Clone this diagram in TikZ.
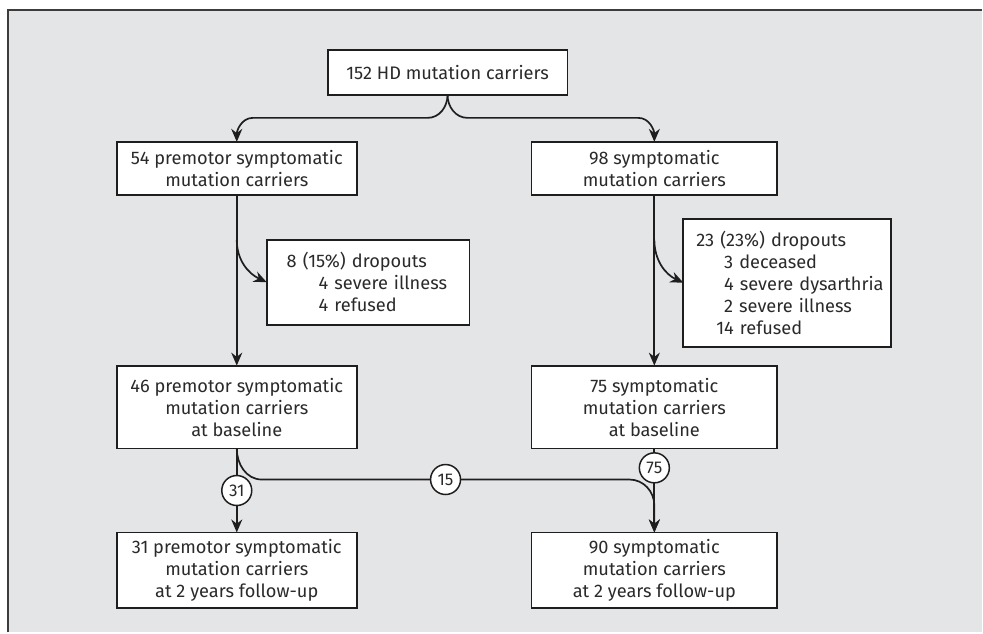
\documentclass[tikz,border=0pt]{standalone}
\usepackage{fontspec}
\setmainfont{Fira Sans}
\usepackage{tikz}
\usetikzlibrary{positioning,arrows.meta,calc}

\definecolor{panel}{HTML}{E4E5E7}
\definecolor{ink}{HTML}{1E1E1E}
\definecolor{txt}{HTML}{2A2A2A}
\definecolor{rim}{HTML}{3C3C3C}

\begin{document}
\begin{tikzpicture}[x=1pt,y=1pt,>={Stealth[length=13pt,width=11pt]},
   box/.style={draw=ink,line width=1.8pt,fill=white,align=center,inner sep=0pt,
     outer sep=0pt,text=txt,font=\fontsize{18.2}{22}\selectfont},
   dropbox/.style={box,align=left,anchor=west},
   flow/.style={->,draw=ink,line width=1.7pt},
   count/.style={circle,draw=ink,line width=1.5pt,fill=white,inner sep=0pt,
     minimum size=30pt,text=txt,font=\fontsize{17}{18}\selectfont}]
  % frame
  \fill[white] (0,0) rectangle (983,-633);
  \fill[panel] (8,-10) rectangle (983,-633);
  \draw[rim,line width=2pt] (8,-633) -- (8,-10) -- (983,-10);
  % boxes
  \node[box,minimum width=240pt,minimum height=45pt] (top) at (448,-72.5) {152 HD mutation carriers};
  \node[box,minimum width=240pt,minimum height=53pt] (b54) at (237,-168.5) {54 premotor symptomatic\\mutation carriers};
  \node[box,minimum width=246pt,minimum height=53pt] (b98) at (655,-168.5) {98 symptomatic\\mutation carriers};
  \node[dropbox,text width=203pt,minimum height=85pt] (d8) at (267,-282.5)
    {\hspace*{20pt}8 (15\%) dropouts\\\hspace*{52pt}4 severe illness\\\hspace*{52pt}4 refused};
  \node[dropbox,text width=208pt,minimum height=128pt] (d23) at (684,-283)
    {\hspace*{13pt}23 (23\%) dropouts\\\hspace*{33pt}\phantom{1}3 deceased\\\mbox{\hspace*{33pt}\phantom{1}4 severe dysarthria}\\\hspace*{33pt}\phantom{1}2 severe illness\\\hspace*{33pt}14 refused};
  \node[box,minimum width=240pt,minimum height=83pt] (b46) [below=171pt of b54] {46 premotor symptomatic\\mutation carriers\\at baseline};
  \node[box,minimum width=246pt,minimum height=83pt] (b75) [below=171pt of b98] {75 symptomatic\\mutation carriers\\at baseline};
  \node[box,minimum width=240pt,minimum height=76pt] (b31) [below=84pt of b46] {31 premotor symptomatic\\mutation carriers\\at 2 years follow-up};
  \node[box,minimum width=246pt,minimum height=76pt] (b90) [below=84pt of b75] {90 symptomatic\\mutation carriers\\at 2 years follow-up};

  \coordinate (split) at ($(top.south)+(0,-23)$);
  \coordinate (cross) at ($(b46.south)+(0,-31)$);

  % split into the two groups
  \draw[flow] (top.south) to[out=-90,in=0] ($(split)+(-20,0)$)
    -- ($(split -| b54.north)+(16,0)$) to[out=180,in=90] (b54.north);
  \draw[flow] (top.south) to[out=-90,in=180] ($(split)+(20,0)$)
    -- ($(split -| b98.north)+(-16,0)$) to[out=0,in=90] (b98.north);
  % straight down
  \draw[flow] (b54) -- (b46);
  \draw[flow] (b98) -- (b75);
  % dropouts
  \draw[flow] ($(b54.south)+(0,-45)$) to[out=-90,in=155] (d8.west);
  \draw[flow] ($(b98.south)+(0,-45)$) to[out=-90,in=155] (d23.west);
  % follow-up
  \draw[flow] (b46) -- node[count] (n31) {31} (b31);
  \draw[flow] (b75) -- node[count,pos=0.23] (n75) {75} (b90);
  \draw[flow] (b46.south) to[out=-90,in=180] ($(cross)+(25,0)$)
    -- node[count] (n15) {15} ($(cross -| b90.north)+(-25,0)$)
    to[out=0,in=90] ($(cross -| b90.north)+(0,-26)$) -- (b90.north);
\end{tikzpicture}
\end{document}
